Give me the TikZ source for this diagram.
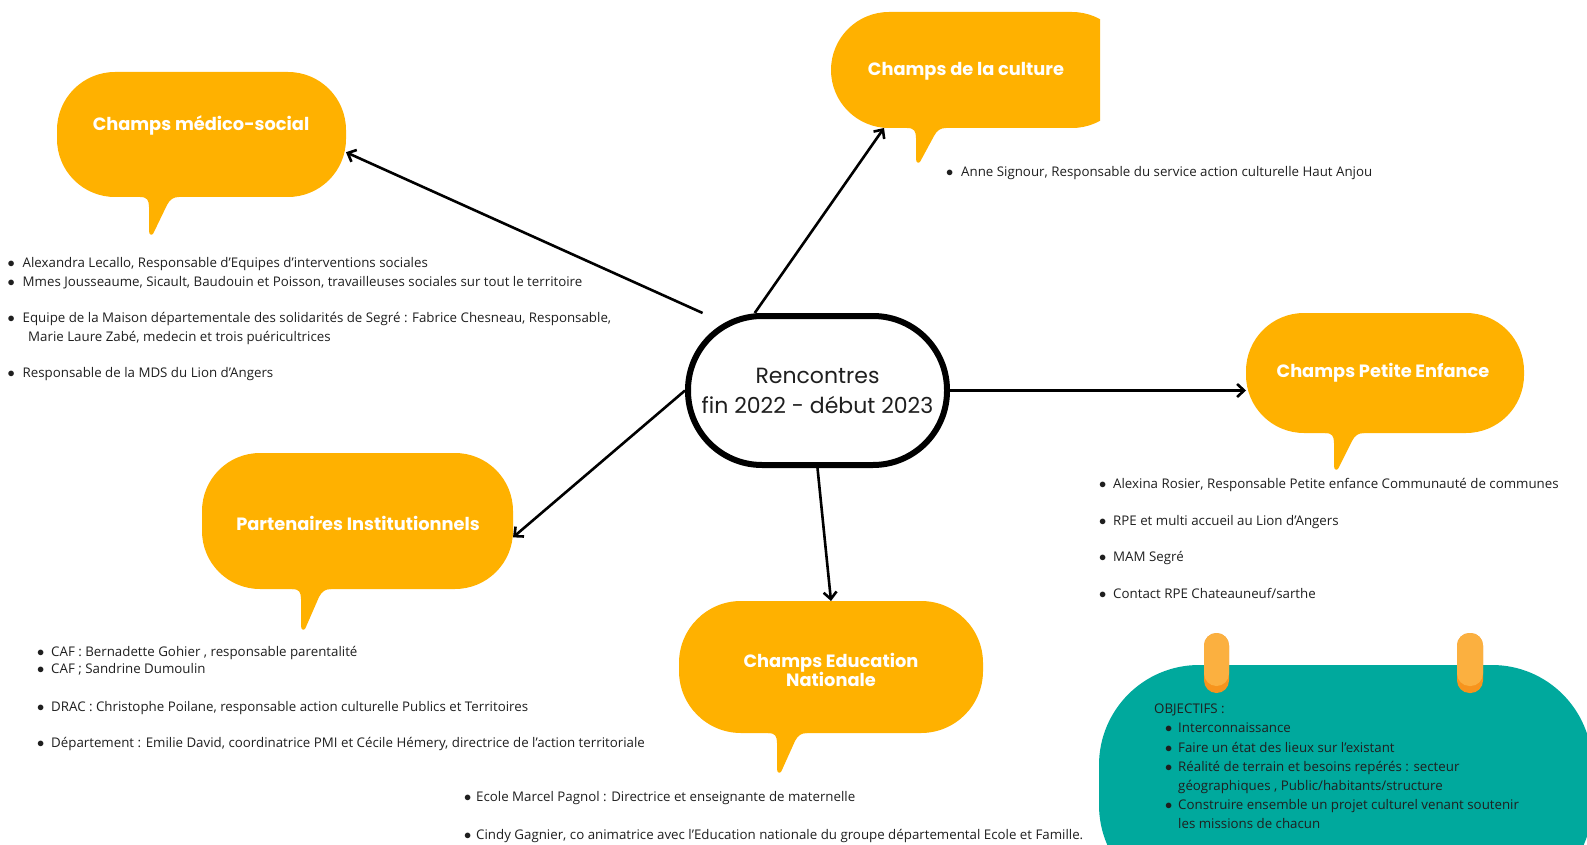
\documentclass[tikz,border=0pt]{standalone}
\usepackage{fontspec}
\setmainfont{Open Sans}
\newfontfamily\bubfont{Poppins}
\usetikzlibrary{arrows.meta,calc}
\definecolor{borange}{HTML}{FFB100}
\definecolor{tealbg}{HTML}{00A99D}
\definecolor{tabl}{HTML}{FBB040}
\definecolor{tabd}{HTML}{F7941D}
\definecolor{txt}{HTML}{1F1F1F}
\newcommand\btail[3]{%
  \fill[borange] (#1-9,#2) .. controls (#1-2,#2) and (#1,#2+3) .. (#1,#2+10)
    -- (#1,#2+#3-4) .. controls (#1,#2+#3) and (#1+3,#2+#3+1) .. (#1+4.5,#2+#3-2)
    -- (#1+18,#2+8) .. controls (#1+21,#2+2) and (#1+25,#2) .. (#1+30,#2)
    -- (#1+30,#2-5) -- (#1-9,#2-5) -- cycle;}
\newcommand\bul[1]{\makebox[#1][l]{$\bullet$}}
\begin{document}
\begin{tikzpicture}[x=1pt,y=-1pt,
  bubble/.style={fill=borange, rounded corners=58pt, inner sep=0pt, outer sep=0pt},
  btitle/.style={text=white, font=\bubfont\bfseries\fontsize{17.8}{19}\selectfont, align=center, inner sep=0pt},
  item/.style={anchor=base west, inner sep=0pt, text=txt, font=\fontsize{13.3}{15}\selectfont},
  conn/.style={line width=2.6pt, -{Straight Barb[length=7pt,width=13pt]}}]
\clip (0,0) rectangle (1587,845);
\fill[white] (0,0) rectangle (1587,845);

% central node
\node[draw=black, line width=6pt, rounded corners=74pt, minimum width=259pt, minimum height=149pt,
  inner sep=0pt, align=center, text=txt, font=\bubfont\fontsize{22}{30}\selectfont]
  (center) at (817.5,390.5) {Rencontres\\fin 2022 - début 2023};

% bubbles
\node[bubble, minimum width=289pt, minimum height=125pt] (medico) at (201.5,134.5) {};
\btail{149}{197}{38}
\node[btitle] (medicotxt) at (201,125) {Champs médico-social};

\begin{scope}
\clip (0,0) rectangle (1100,845);
\node[bubble, minimum width=299pt, minimum height=116pt] (culture) at (980.5,70) {};
\btail{916}{128}{35}
\end{scope}
\node[btitle] (culturetxt) at (966,71) {Champs de la culture};

\node[bubble, minimum width=278pt, minimum height=120pt] (pe) at (1385,373) {};
\btail{1334}{433}{37}
\node[btitle] (petxt) at (1383,373) {Champs Petite Enfance};

\node[bubble, minimum width=311pt, minimum height=136pt] (part) at (357.5,521) {};
\btail{301}{589}{41}
\node[btitle] (parttxt) at (358,523) {Partenaires Institutionnels};

\node[bubble, rounded corners=62pt, minimum width=304pt, minimum height=132pt] (edu) at (831,667) {};
\btail{777}{733}{40}
\node[btitle] (edutxt) at (831,669.5) {Champs Education\\Nationale};

% connectors
\draw[conn] (center.146.1) -- (medico.-7.7);
\draw[conn] (center.129.8) -- (culture.211.8);
\draw[conn] (center.east) -- (center.east -| pe.west);
\draw[conn] (center.west) -- (part.-6.9);
\draw[conn] (center.south) -- (edu.north);

% lists
\node[item] (m1) at (7.5,267.5) {\bul{15pt}Alexandra Lecallo, Responsable d’Equipes d’interventions sociales};
\node[item] (m2) at (7.5,286.5) {\bul{15pt}Mmes Jousseaume, Sicault, Baudouin et Poisson, travailleuses sociales sur tout le territoire};
\node[item] (m3) at (7.5,322.5) {\bul{15pt}Equipe de la Maison départementale des solidarités de Segré : Fabrice Chesneau, Responsable,};
\node[item] (m4) at (28,341.5) {Marie Laure Zabé, medecin et trois puéricultrices};
\node[item] (m5) at (7.5,377.5) {\bul{15pt}Responsable de la MDS du Lion d’Angers};

\node[item] (c1) at (946,176.5) {\bul{15pt}Anne Signour, Responsable du service action culturelle Haut Anjou};

\node[item] (p1) at (1099,488.5) {\bul{14pt}Alexina Rosier, Responsable Petite enfance Communauté de communes};
\node[item] (p2) at (1099,525.5) {\bul{14pt}RPE et multi accueil au Lion d’Angers};
\node[item] (p3) at (1099,561.5) {\bul{14pt}MAM Segré};
\node[item] (p4) at (1099,598.5) {\bul{14pt}Contact RPE Chateauneuf/sarthe};

\node[item] (i1) at (37,656.5) {\bul{14pt}CAF : Bernadette Gohier , responsable parentalité};
\node[item] (i2) at (37,673.5) {\bul{14pt}CAF ; Sandrine Dumoulin};
\node[item] (i3) at (37,711.5) {\bul{14pt}DRAC : Christophe Poilane, responsable action culturelle Publics et Territoires};
\node[item] (i4) at (37,747.5) {\bul{14pt}Département : Emilie David, coordinatrice PMI et Cécile Hémery, directrice de l’action territoriale};

\node[item] (e1) at (464,801.5) {\bul{12pt}Ecole Marcel Pagnol : Directrice et enseignante de maternelle};
\node[item] (e2) at (464,839.5) {\bul{12pt}Cindy Gagnier, co animatrice avec l’Education nationale du groupe départemental Ecole et Famille.};

% objectifs
\fill[tealbg, rounded corners=100pt] (1099,665) rectangle (1592,905);
\fill[tabd, rounded corners=12.5pt] (1204,633) rectangle (1229,693);
\fill[tabl, rounded corners=12.5pt] (1204,633) rectangle (1229,686);
\fill[tabd, rounded corners=12.5pt] (1457,633) rectangle (1483,693);
\fill[tabl, rounded corners=12.5pt] (1457,633) rectangle (1483,686);
\node[item] (o0) at (1154,713.5) {OBJECTIFS :};
\node[item] (o1) at (1165,732.5) {\bul{13pt}Interconnaissance};
\node[item] (o2) at (1165,752) {\bul{13pt}Faire un état des lieux sur l’existant};
\node[item] (o3) at (1165,771) {\bul{13pt}Réalité de terrain et besoins repérés : secteur};
\node[item] (o3b) at (1178,790) {géographiques , Public/habitants/structure};
\node[item] (o4) at (1165,809.5) {\bul{13pt}Construire ensemble un projet culturel venant soutenir};
\node[item] (o4b) at (1178,828.5) {les missions de chacun};
\end{tikzpicture}
\end{document}
